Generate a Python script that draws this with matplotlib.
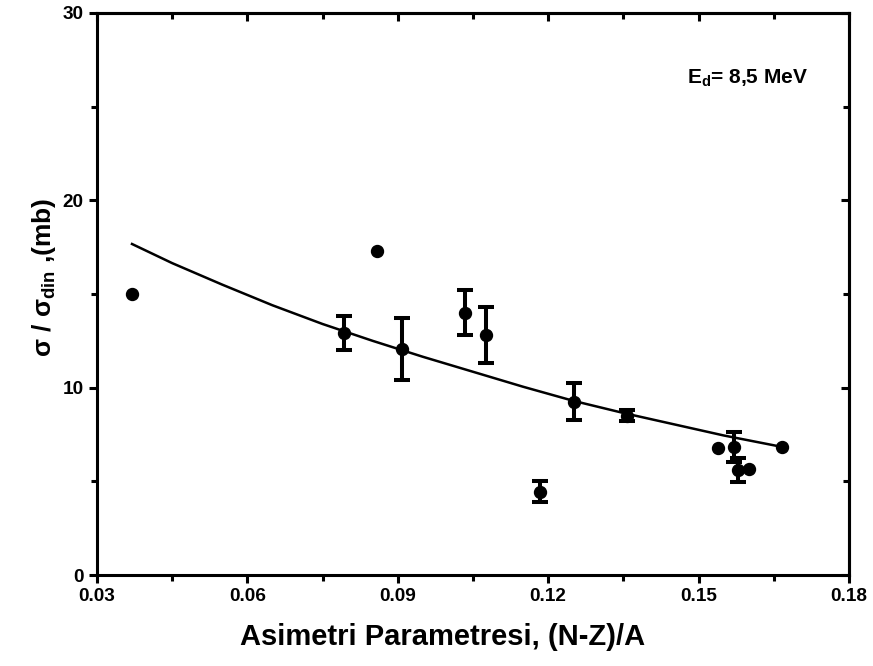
import numpy as np
import matplotlib.pyplot as plt
from matplotlib.ticker import MultipleLocator

# ---- data ----
x_err = [0.0793, 0.0909, 0.1035, 0.1077, 0.1184, 0.1252, 0.1358, 0.1571, 0.1579]
y_err = [12.9, 12.05, 14.0, 12.8, 4.45, 9.25, 8.5, 6.85, 5.6]
e_err = [0.9, 1.65, 1.2, 1.48, 0.55, 1.0, 0.3, 0.8, 0.65]

x_pts = [0.0370, 0.0858, 0.1539, 0.1601, 0.1667]
y_pts = [15.0, 17.3, 6.8, 5.65, 6.82]

x_fit = [0.037, 0.045, 0.055, 0.065, 0.075, 0.085, 0.095, 0.105, 0.115, 0.125, 0.135, 0.145, 0.155, 0.167]
y_fit = [17.67, 16.65, 15.5, 14.4, 13.4, 12.5, 11.65, 10.85, 10.05, 9.3, 8.65, 8.05, 7.45, 6.82]

plt.rcParams['font.family'] = ['Liberation Sans', 'DejaVu Sans']
plt.rcParams['font.weight'] = 'bold'
plt.rcParams['mathtext.fontset'] = 'custom'
plt.rcParams['mathtext.rm'] = 'Liberation Sans:bold'
plt.rcParams['mathtext.it'] = 'Liberation Sans:bold'
plt.rcParams['mathtext.bf'] = 'Liberation Sans:bold'

fig = plt.figure(figsize=(8.73, 6.66), dpi=100)
ax = fig.add_axes([0.111, 0.1366, 0.8615, 0.8439])

ax.plot(x_fit, y_fit, color='black', lw=1.8, zorder=2)
ax.errorbar(x_err, y_err, yerr=e_err, fmt='o', color='black', ms=8.6,
            elinewidth=2.9, capsize=5.6, capthick=2.9, zorder=3)
ax.plot(x_pts, y_pts, 'o', color='black', ms=8.6, zorder=3)

ax.set_xlim(0.03, 0.18)
ax.set_ylim(0, 30)
ax.xaxis.set_major_locator(MultipleLocator(0.03))
ax.xaxis.set_minor_locator(MultipleLocator(0.015))
ax.yaxis.set_major_locator(MultipleLocator(10))
ax.yaxis.set_minor_locator(MultipleLocator(5))
ax.xaxis.set_major_formatter(plt.FuncFormatter(lambda v, p: f'{v:.2f}'))

for s in ax.spines.values():
    s.set_linewidth(2.2)
ax.tick_params(which='both', width=2.2, labelsize=13.7, top=False, right=False)
ax.tick_params(which='major', length=6, direction='out')
ax.tick_params(which='minor', length=4, direction='out')

# inward ticks on top and right
ax2 = ax.secondary_xaxis('top')
ax2.xaxis.set_major_locator(MultipleLocator(0.03))
ax2.xaxis.set_minor_locator(MultipleLocator(0.015))
ax2.tick_params(which='both', direction='in', width=2.2, labeltop=False)
ax2.tick_params(which='major', length=6)
ax2.tick_params(which='minor', length=4)
ax2.spines['top'].set_linewidth(2.2)
ay2 = ax.secondary_yaxis('right')
ay2.yaxis.set_major_locator(MultipleLocator(10))
ay2.yaxis.set_minor_locator(MultipleLocator(5))
ay2.tick_params(which='both', direction='in', width=2.2, labelright=False)
ay2.tick_params(which='major', length=6)
ay2.tick_params(which='minor', length=4)
ay2.spines['right'].set_linewidth(2.2)

ax.set_xlabel('Asimetri Parametresi, (N-Z)/A', fontsize=21, fontweight='bold')
ax.xaxis.set_label_coords(0.46, -0.085)
ax.set_ylabel(r'σ / σ$_{\mathrm{din}}$ ,(mb)', fontsize=19, fontweight='bold')
ax.yaxis.set_label_coords(-0.052, 0.53)

ax.text(0.9455, 0.884, r'E$_{\mathrm{d}}$= 8,5 MeV', transform=ax.transAxes,
        ha='right', va='center', fontsize=15, fontweight='bold')

fig.savefig('out.png', dpi=100)
